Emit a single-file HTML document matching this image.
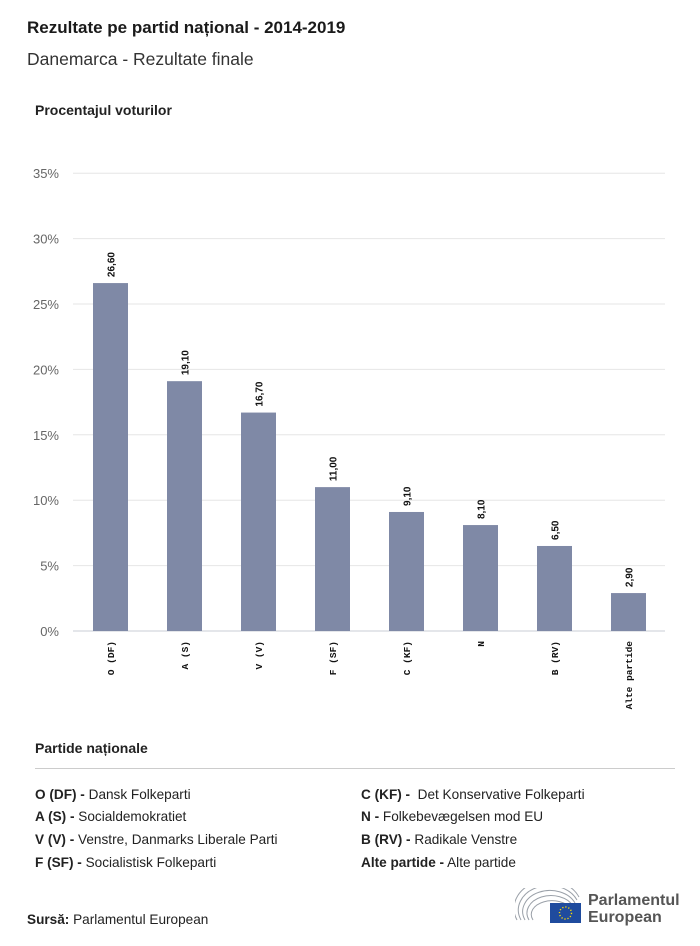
<!DOCTYPE html>
<html><head><meta charset="utf-8"><style>
body{margin:0;background:#fff;width:700px;height:946px;overflow:hidden;font-family:"Liberation Sans",sans-serif;color:#222}
.t{position:absolute;white-space:nowrap}
</style></head><body>
<div class="t" style="left:27px;top:18px;font-size:17px;font-weight:bold;color:#1a1a1a">Rezultate pe partid național - 2014-2019</div>
<div class="t" style="left:27px;top:49px;font-size:17.5px;color:#333">Danemarca - Rezultate finale</div>
<div class="t" style="left:35px;top:102px;font-size:14px;font-weight:bold">Procentajul voturilor</div>
<svg id="chart" width="700" height="730" style="position:absolute;left:0;top:0"></svg>
<div class="t" style="left:35px;top:740px;font-size:14px;font-weight:bold">Partide naționale</div>
<div style="position:absolute;left:35px;top:768px;width:640px;height:1px;background:#ccc"></div>
<div style="font-size:13.6px;color:#222">
<div class="t" style="left:35px;top:787px"><b>O (DF) -</b> Dansk Folkeparti</div>
<div class="t" style="left:35px;top:809px"><b>A (S) -</b> Socialdemokratiet</div>
<div class="t" style="left:35px;top:832px"><b>V (V) -</b> Venstre, Danmarks Liberale Parti</div>
<div class="t" style="left:35px;top:855px"><b>F (SF) -</b> Socialistisk Folkeparti</div>
<div class="t" style="left:361px;top:787px"><b>C (KF) -</b>&nbsp; Det Konservative Folkeparti</div>
<div class="t" style="left:361px;top:809px"><b>N -</b> Folkebevægelsen mod EU</div>
<div class="t" style="left:361px;top:832px"><b>B (RV) -</b> Radikale Venstre</div>
<div class="t" style="left:361px;top:855px"><b>Alte partide -</b> Alte partide</div>
</div>
<div class="t" style="left:27px;top:912px;font-size:13.6px"><b>Sursă:</b> Parlamentul European</div>
<div style="position:absolute;left:515px;top:888px;width:170px;height:40px">
<svg width="70" height="40" style="position:absolute;left:0;top:0">
<g fill="none" stroke="#9aa0a8" stroke-width="1">
<path d="M2 32 A34 28 0 0 1 64 9"/><path d="M6 32 A30 24 0 0 1 62 12"/><path d="M10 32 A26 20 0 0 1 60 15"/><path d="M14 32 A22 16 0 0 1 58 18"/><path d="M18 32 A18 12 0 0 1 56 21"/>
</g>
<rect x="35" y="15" width="31" height="20" fill="#1f4b9e"/>
<circle cx="50.5" cy="25" r="6" fill="none" stroke="#ffdd00" stroke-width="1.4" stroke-dasharray="1.2 1.9"/>
</svg>
<div class="t" style="left:73px;top:4px;font-size:16px;font-weight:bold;color:#555;line-height:17px">Parlamentul<br>European</div>
</div>
<script>
const categories=["O (DF)","A (S)","V (V)","F (SF)","C (KF)","N","B (RV)","Alte partide"];
const values=[26.6,19.1,16.7,11.0,9.1,8.1,6.5,2.9];
const valueLabels=["26,60","19,10","16,70","11,00","9,10","8,10","6,50","2,90"];
const yTicks=[0,5,10,15,20,25,30,35];
const yTickLabels=["0%","5%","10%","15%","20%","25%","30%","35%"];
const svg=document.getElementById('chart');
const NS='http://www.w3.org/2000/svg';
const y0=631,yPer=65.4/5,x0=73,x1=665;
const y=v=>y0-v*yPer;
const step=74,firstC=110.5,bw=35;
const xc=i=>firstC+i*step;
function mk(tag,attrs){const e=document.createElementNS(NS,tag);for(const k in attrs)e.setAttribute(k,attrs[k]);svg.appendChild(e);return e;}
yTicks.forEach((t,i)=>{
  const l=mk('line',{x1:x0,x2:x1,y1:y(t),y2:y(t),stroke:t===0?'#c8ccd6':'#e6e6e6','stroke-width':1});
  
  
  const tx=mk('text',{x:59,y:y(t)+5,'text-anchor':'end','font-size':13,fill:'#666','font-family':'Liberation Sans, sans-serif'});
  tx.textContent=yTickLabels[i];
  
  
});
values.forEach((v,i)=>{
  const r=mk('rect',{x:xc(i)-bw/2,y:y(v),width:bw,height:y0-y(v),fill:'#7f89a6'});
  
  
  const vl=mk('text',{transform:`translate(${xc(i)+4},${y(v)-6}) rotate(-90)`,'font-size':10,'font-weight':'bold',fill:'#111','font-family':'Liberation Sans, sans-serif'});
  vl.textContent=valueLabels[i];
  
  
  const cl=mk('text',{transform:`translate(${xc(i)+3.5},641) rotate(-90)`,'text-anchor':'end','font-size':9.5,'font-weight':'bold',fill:'#111','font-family':'Liberation Mono, monospace'});
  cl.textContent=categories[i];
  
  
});
</script>
</body></html>
